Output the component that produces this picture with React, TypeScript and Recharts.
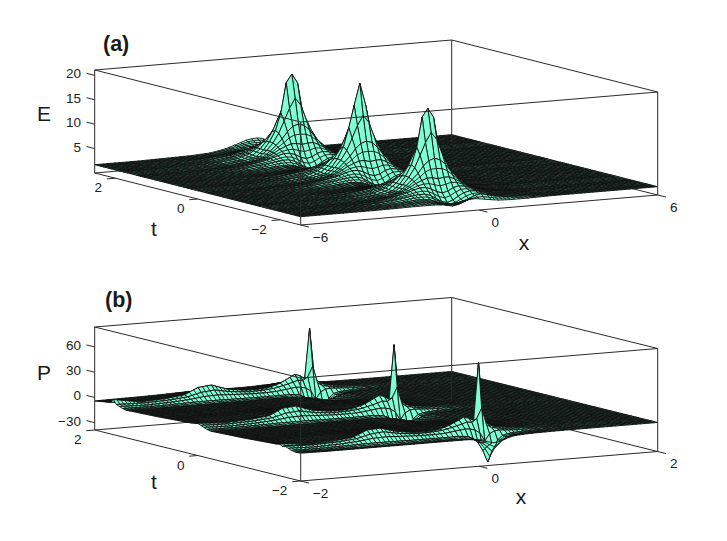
import { ScatterChart, Scatter, XAxis, YAxis } from "recharts";

const WIDTH = 727;
const HEIGHT = 541;
const AQUA = "#7fffd4";
const MESH = "#111111";
const MESH_LINES = 88; // pitch of the fine mesh hatched over each cell
const FONT = "'Liberation Sans', Arial, sans-serif";

// ---- panel (a): E(x, t)
const E_X = [-6, -4.55, -3.55, -2.75, -2.15, -1.75, -1.5, -1.3, -1.1, -0.92, -0.74, -0.55, -0.36, -0.18, 0, 0.2, 0.4, 0.65, 1.05, 1.65, 2.45, 3.45, 6];
const E_BACK = [1.7, 1.7, 1.8, 1.9, 2.1, 2.5, 2.9, 3.3, 3.7, 4.1, 4.3, 4.4, 4.2, 3.6, 3, 2.4, 2, 1.8, 1.7, 1.7, 1.7, 1.7, 1.7];
const E_BACK2 = [1.7, 1.7, 1.8, 1.9, 2.1, 2.5, 2.8, 3.1, 3.3, 3.3, 3.2, 3, 2.9, 2.7, 2.4, 2.2, 2, 1.9, 1.8, 1.7, 1.7, 1.7, 1.7];
const E_TOP_A = [1.7, 1.7, 1.75, 1.9, 2.3, 3, 4.2, 5.8, 8, 11.5, 17.6, 19.3, 17.4, 11, 8, 5.6, 4.1, 3, 2.2, 1.85, 1.7, 1.7, 1.7];
const E_TOP_B = [1.7, 1.7, 1.75, 1.9, 2.3, 3, 4.2, 5.8, 8.2, 12, 16.5, 20.9, 16.5, 11, 8, 5.7, 4.1, 3, 2.2, 1.85, 1.7, 1.7, 1.7];
const E_F1 = [1.7, 1.7, 1.75, 1.9, 2.3, 3.1, 4.3, 5.7, 7.6, 10, 12.5, 14.5, 13, 10, 7.6, 5.6, 4.2, 3.1, 2.3, 1.9, 1.7, 1.7, 1.7];
const E_F2 = [1.7, 1.7, 1.75, 1.95, 2.4, 3.2, 4.3, 5.4, 6.6, 8, 9, 9.4, 9, 8, 6.5, 5.2, 4.1, 3.1, 2.3, 1.9, 1.7, 1.7, 1.7];
const E_F3 = [1.7, 1.7, 1.8, 2, 2.6, 3.3, 4.1, 4.8, 5.3, 5.7, 5.7, 5.4, 5.6, 5.6, 5.1, 4.4, 3.7, 3, 2.3, 1.9, 1.7, 1.7, 1.7];
const E_F4 = [1.7, 1.7, 1.8, 2.1, 2.7, 3.3, 3.8, 4.1, 4.1, 3.7, 3.1, 2.7, 3, 3.6, 3.9, 3.7, 3.3, 2.8, 2.3, 1.9, 1.7, 1.7, 1.7];
const E_F5 = [1.7, 1.7, 1.8, 2.1, 2.5, 2.9, 3.1, 3.1, 2.7, 2, 1.3, 1, 1.4, 2.1, 2.7, 3, 2.9, 2.6, 2.2, 1.9, 1.7, 1.7, 1.7];
const E_F6 = [1.7, 1.7, 1.8, 1.95, 2.2, 2.4, 2.4, 2.2, 1.7, 1.2, 0.8, 0.6, 0.8, 1.2, 1.7, 2.2, 2.4, 2.4, 2.1, 1.9, 1.7, 1.7, 1.7];
const E_MID = [1.7, 1.7, 1.75, 1.85, 2, 2.1, 2, 1.8, 1.5, 1.2, 1, 0.9, 1, 1.3, 1.6, 1.9, 2.1, 2.2, 2, 1.85, 1.7, 1.7, 1.7];
const E_LIP = [1.7, 1.7, 1.75, 1.85, 2, 2.1, 2, 1.8, 1.6, 1.5, 1.5, 1.6, 1.9, 2.3, 2.8, 3, 2.7, 2.3, 2, 1.8, 1.7, 1.7, 1.7];
const E_FRONT = [1.7, 1.7, 1.7, 1.75, 1.8, 1.8, 1.8, 1.7, 1.6, 1.6, 1.7, 2, 2.3, 2.4, 2.3, 2.1, 1.9, 1.7, 1.6, 1.6, 1.7, 1.7, 1.7];
const E_T = [2.5, 2.3, 2.12, 2, 1.9, 1.81, 1.73, 1.65, 1.57, 1.49, 1.4, 1.3, 1.18, 1.05, 0.82, 0.6, 0.47, 0.35, 0.25, 0.16, 0.08, 0, -0.08, -0.16, -0.25, -0.35, -0.47, -0.6, -0.82, -1.05, -1.18, -1.3, -1.4, -1.49, -1.57, -1.65, -1.73, -1.81, -1.9, -2, -2.12, -2.25, -2.4, -2.5];
const E_ROWS = [E_BACK, E_BACK2, E_F5, E_F4, E_F3, E_F2, E_F1, E_TOP_A, E_F1, E_F2, E_F3, E_F4, E_F5, E_F6, E_MID, E_F6, E_F5, E_F4, E_F3, E_F2, E_F1, E_TOP_B, E_F1, E_F2, E_F3, E_F4, E_F5, E_F6, E_MID, E_F6, E_F5, E_F4, E_F3, E_F2, E_F1, E_TOP_A, E_F1, E_F2, E_F3, E_F4, E_F5, E_F6, E_LIP, E_FRONT];

// ---- panel (b): P(x, t)
const P_X = [-2, -1.7, -1.4, -1.2, -1.05, -0.9, -0.72, -0.52, -0.35, -0.24, -0.13, -0.02, 0.035, 0.09, 0.145, 0.2, 0.255, 0.31, 0.365, 0.42, 0.5, 0.6, 0.75, 0.95, 1.3, 2];
const P_BACK = [-4.2, -3.8, -3.5, -3, -2.5, -2.3, -2.4, -2.6, -2.6, -2.4, -2, -1.7, -1.5, -1.5, -1.5, -1.5, -1.8, -2.2, -2.6, -3, -3.4, -3.8, -4, -4.2, -4.2, -4.2];
const P_B3 = [-3, -3.5, -3, -2.5, -2, -1.8, -2, -2.5, -2.5, -2, -1.5, -0.5, 0, 0, 0, 0, -0.5, -1, -1.5, -2, -2.5, -3.2, -3.8, -4.2, -4.2, -4.2];
const P_B2 = [-2, -3.5, -2.5, -1.5, 1, 1.5, 0.5, -1, -1, -0.5, 1, 4, 5, 4.5, 3.5, 4, 3, 1, 0, -1, -2, -3, -3.8, -4.2, -4.2, -4.2];
const P_B1 = [-1, -3, -1.5, 0, 5, 6.5, 2.5, 0, 0, 1.5, 4, 8, 10, 9, 7, 14, 6, 2, 0, -1, -2, -3, -3.8, -4.2, -4.2, -4.2];
const P_TIP_1 = [3, -2.5, -1, 1.5, 9, 10.5, 4, 1, 1, 2.5, 6, 12, 15, 13, 9, 68, 8, 3, 0, -1, -2, -3, -3.8, -4.2, -4.2, -4.2];
const P_TIP_2 = [-0.5, -2.5, -1, 1.5, 9, 10.5, 4, 1, 1, 2.5, 6, 12, 15, 13, 9, 73.6, 8, 3, 0, -1, -2, -3, -3.8, -4.2, -4.2, -4.2];
const P_TIP_3 = [-3, -3, -1.5, 1, 8, 9, 3.5, 0.5, 0.5, 2, 5.5, 11, 14, 12, 9, 77.8, 8, 3, 0, -1, -2, -3, -3.8, -4.2, -4.2, -4.2];
const P_F1 = [-2, -3, -2, 0, 4, 5.5, 2, 0, 0.5, 1.5, 4, 7, 9, 8, 12, 24, 4, 0, -1, -2, -2.5, -3.2, -3.8, -4.2, -4.2, -4.2];
const P_F2 = [-3.5, -4.5, -3.5, -2, 0, 0.5, -0.5, -1.5, -1.5, -1, 0.5, 2, 1.5, 0, -4, -14, -6, -3, -2.5, -3, -3.5, -4, -4.2, -4.2, -4.2, -4.2];
const P_F3 = [-5, -5.5, -5, -4.5, -4.5, -4.5, -4.8, -5, -5, -5, -4.8, -6, -9, -14, -24, -38, -24, -13, -8, -6.5, -5.5, -5, -4.6, -4.3, -4.2, -4.2];
const P_F4 = [-6, -6.5, -6.5, -6.5, -6.5, -6.5, -6.5, -6.5, -6.5, -6.5, -7, -8, -10, -13, -18, -24, -18, -12, -8.5, -7, -6, -5.4, -4.8, -4.4, -4.2, -4.2];
const P_F5 = [-5.6, -6, -6, -6, -6, -6, -6, -6, -6, -6, -6, -7, -8, -10, -12, -12, -10, -8, -6.5, -5.5, -5, -4.6, -4.4, -4.2, -4.2, -4.2];
const P_MID = [-4.5, -4.8, -4.8, -4.8, -4.8, -4.8, -4.8, -5, -5, -5, -5, -5, -5, -5, -5, -5, -5, -5, -5, -5, -4.8, -4.6, -4.4, -4.2, -4.2, -4.2];
const P_T = [2, 1.78, 1.69, 1.64, 1.58, 1.52, 1.46, 1.38, 1.28, 0.8, 0.4, 0.14, 0.05, 0, -0.06, -0.12, -0.18, -0.26, -0.36, -0.84, -1.24, -1.5, -1.59, -1.64, -1.7, -1.76, -1.82, -1.9, -2];
const P_ROWS = [P_BACK, P_B2, P_B1, P_TIP_1, P_F1, P_F2, P_F3, P_F4, P_F5, P_MID, P_B3, P_B2, P_B1, P_TIP_2, P_F1, P_F2, P_F3, P_F4, P_F5, P_MID, P_B3, P_B2, P_B1, P_TIP_3, P_F1, P_F2, P_F3, P_F4, P_F5];

// tick labels
const E_Z_TICKS = [5, 10, 15, 20];
const E_T_TICKS = [2, 0, -2];
const E_X_TICKS = [-6, 0, 6];
const P_Z_TICKS = [-30, 0, 30, 60];
const P_T_TICKS = [2, 0, -2];
const P_X_TICKS = [-2, 0, 2];

const PANEL_A = {
  ox: 300.7, oy: 225, xv: [357, -30], tv: [-206, -52], zh: 103,
  xr: [-6, 6], tr: [-2.5, 2.5], zr: [0, 21.1],
};
const PANEL_B = {
  ox: 300.7, oy: 481, xv: [357, -29.5], tv: [-206, -51], zh: 103,
  xr: [-2, 2], tr: [-2, 2], zr: [-38.7, 83.7],
};

type Panel = typeof PANEL_A;

const frac = (v: number, r: number[]) => (v - r[0]) / (r[1] - r[0]);

function project(p: Panel, x: number, t: number, z: number) {
  const u = frac(x, p.xr);
  const v = frac(t, p.tr);
  const w = frac(z, p.zr);
  return {
    px: p.ox + u * p.xv[0] + v * p.tv[0],
    py: p.oy + u * p.xv[1] + v * p.tv[1] - w * p.zh,
  };
}

// one record per surface cell, listed back to front so nearer cells paint over
function buildSurface(p: Panel, xs: number[], ts: number[], rows: number[][]) {
  const quads: any[] = [];
  for (let i = 0; i < ts.length - 1; i++) {
    for (let j = xs.length - 2; j >= 0; j--) {
      const a = project(p, xs[j], ts[i], rows[i][j]);
      const b = project(p, xs[j + 1], ts[i], rows[i][j + 1]);
      const c = project(p, xs[j + 1], ts[i + 1], rows[i + 1][j + 1]);
      const d = project(p, xs[j], ts[i + 1], rows[i + 1][j]);
      quads.push({
        px: a.px,
        py: a.py,
        rel: [b, c, d].map((q) => [q.px - a.px, q.py - a.py]),
        nu: Math.max(1, Math.round((frac(xs[j + 1], p.xr) - frac(xs[j], p.xr)) * MESH_LINES)),
        nv: Math.max(1, Math.round((frac(ts[i], p.tr) - frac(ts[i + 1], p.tr)) * MESH_LINES)),
      });
    }
  }
  return quads;
}

function buildEdges(p: Panel, front: boolean) {
  const [x0, x1] = p.xr;
  const [t0, t1] = p.tr;
  const [z0, z1] = p.zr;
  const segs: number[][][] = front
    ? [
        [[x0, t0, z0], [x1, t0, z0]],
        [[x0, t0, z0], [x0, t1, z0]],
        [[x0, t0, z0], [x0, t0, z1]],
        [[x1, t0, z0], [x1, t0, z1]],
        [[x0, t1, z0], [x0, t1, z1]],
        [[x0, t0, z1], [x1, t0, z1]],
        [[x0, t0, z1], [x0, t1, z1]],
        [[x0, t1, z1], [x1, t1, z1]],
        [[x1, t0, z1], [x1, t1, z1]],
        [[x1, t1, z0], [x1, t1, z1]],
      ]
    : [
        [[x1, t0, z0], [x1, t1, z0]],
        [[x0, t1, z0], [x1, t1, z0]],
      ];
  return segs.map(([s, e]) => {
    const a = project(p, s[0], s[1], s[2]);
    const b = project(p, e[0], e[1], e[2]);
    return { px: a.px, py: a.py, dx: b.px - a.px, dy: b.py - a.py };
  });
}

const fmt = (v: number) => (v < 0 ? `\u2212${-v}` : `${v}`);

function buildTicks(p: Panel, zt: number[], tt: number[], xt: number[]) {
  const out: any[] = [];
  const tn = Math.hypot(p.tv[0], p.tv[1]);
  const xn = Math.hypot(p.xv[0], p.xv[1]);
  const tl = [(p.tv[0] / tn) * 8.5, (p.tv[1] / tn) * 8.5];
  const xl = [(-p.xv[0] / xn) * 8.5, (-p.xv[1] / xn) * 8.5];
  zt.forEach((z) => {
    const a = project(p, p.xr[0], p.tr[1], z);
    out.push({ ...a, dx: tl[0], dy: tl[1], text: fmt(z), lx: 81 - a.px, ly: -1.5, anchor: "end" });
  });
  tt.forEach((t) => {
    const a = project(p, p.xr[0], t, p.zr[0]);
    out.push({ ...a, dx: xl[0], dy: xl[1], text: fmt(t), lx: t < 0 ? -21 : -17, ly: 9.5, anchor: "middle" });
  });
  xt.forEach((x) => {
    const a = project(p, x, p.tr[0], p.zr[0]);
    out.push({ ...a, dx: -tl[0], dy: -tl[1], text: fmt(x), lx: x < 0 ? 20 : 16, ly: 12, anchor: "middle" });
  });
  return out;
}

const TITLES = [
  { px: 103, py: 44, text: "(a)", size: 21.5, weight: "bold", anchor: "start" },
  { px: 105, py: 300, text: "(b)", size: 21.5, weight: "bold", anchor: "start" },
  { px: 44, py: 113, text: "E", size: 21, anchor: "middle" },
  { px: 44, py: 372, text: "P", size: 21, anchor: "middle" },
  { px: 154, py: 228, text: "t", size: 21, anchor: "middle" },
  { px: 154, py: 481, text: "t", size: 21, anchor: "middle" },
  { px: 524, py: 242, text: "x", size: 21, anchor: "middle" },
  { px: 521, py: 496, text: "x", size: 21, anchor: "middle" },
];

const QuadShape = (props: any) => {
  const { cx, cy, payload } = props;
  const [b, c, d] = payload.rel;
  const { nu, nv } = payload;
  const pts = `${cx},${cy} ${cx + b[0]},${cy + b[1]} ${cx + c[0]},${cy + c[1]} ${cx + d[0]},${cy + d[1]}`;
  // hatch the cell with the fine mesh of the original surface plot
  let hatch = "";
  for (let k = 1; k < nu; k++) {
    const f = k / nu;
    hatch += `M${cx + b[0] * f},${cy + b[1] * f}L${cx + d[0] + (c[0] - d[0]) * f},${cy + d[1] + (c[1] - d[1]) * f}`;
  }
  for (let k = 1; k < nv; k++) {
    const f = k / nv;
    hatch += `M${cx + d[0] * f},${cy + d[1] * f}L${cx + b[0] + (c[0] - b[0]) * f},${cy + b[1] + (c[1] - b[1]) * f}`;
  }
  return (
    <g>
      <polygon points={pts} fill={AQUA} stroke={MESH} strokeWidth={0.9} strokeLinejoin="round" />
      {hatch && <path d={hatch} fill="none" stroke={MESH} strokeWidth={0.9} />}
    </g>
  );
};

const EdgeShape = (props: any) => {
  const { cx, cy, payload } = props;
  return <line x1={cx} y1={cy} x2={cx + payload.dx} y2={cy + payload.dy} stroke="#2a2a2a" strokeWidth={1} />;
};

const TickShape = (props: any) => {
  const { cx, cy, payload } = props;
  return (
    <g>
      <line x1={cx} y1={cy} x2={cx + payload.dx} y2={cy + payload.dy} stroke="#2a2a2a" strokeWidth={1} />
      <text x={cx + payload.lx} y={cy + payload.ly} textAnchor={payload.anchor} dominantBaseline="central" fontFamily={FONT} fontSize={13.5} fill="#222">
        {payload.text}
      </text>
    </g>
  );
};

const TitleShape = (props: any) => {
  const { cx, cy, payload } = props;
  return (
    <text x={cx} y={cy} textAnchor={payload.anchor} dominantBaseline="central" fontFamily={FONT} fontSize={payload.size} fontWeight={payload.weight ?? "normal"} fill="#1a1a1a">
      {payload.text}
    </text>
  );
};

export default function App() {
  const layers: [string, any[], any][] = [
    ["a-back", buildEdges(PANEL_A, false), EdgeShape],
    ["a-surface", buildSurface(PANEL_A, E_X, E_T, E_ROWS), QuadShape],
    ["a-front", buildEdges(PANEL_A, true), EdgeShape],
    ["a-ticks", buildTicks(PANEL_A, E_Z_TICKS, E_T_TICKS, E_X_TICKS), TickShape],
    ["b-back", buildEdges(PANEL_B, false), EdgeShape],
    ["b-surface", buildSurface(PANEL_B, P_X, P_T, P_ROWS), QuadShape],
    ["b-front", buildEdges(PANEL_B, true), EdgeShape],
    ["b-ticks", buildTicks(PANEL_B, P_Z_TICKS, P_T_TICKS, P_X_TICKS), TickShape],
    ["titles", TITLES, TitleShape],
  ];

  return (
    <div style={{ position: "absolute", left: 0, top: 0, width: WIDTH, height: HEIGHT, background: "#fff" }}>
      <ScatterChart width={WIDTH} height={HEIGHT} margin={{ top: 0, right: 0, bottom: 0, left: 0 }}>
        <XAxis type="number" dataKey="px" domain={[0, WIDTH]} hide />
        <YAxis type="number" dataKey="py" domain={[0, HEIGHT]} reversed hide />
        {layers.map(([name, data, shape]) => (
          <Scatter key={name} data={data} shape={shape} isAnimationActive={false} />
        ))}
      </ScatterChart>
    </div>
  );
}
